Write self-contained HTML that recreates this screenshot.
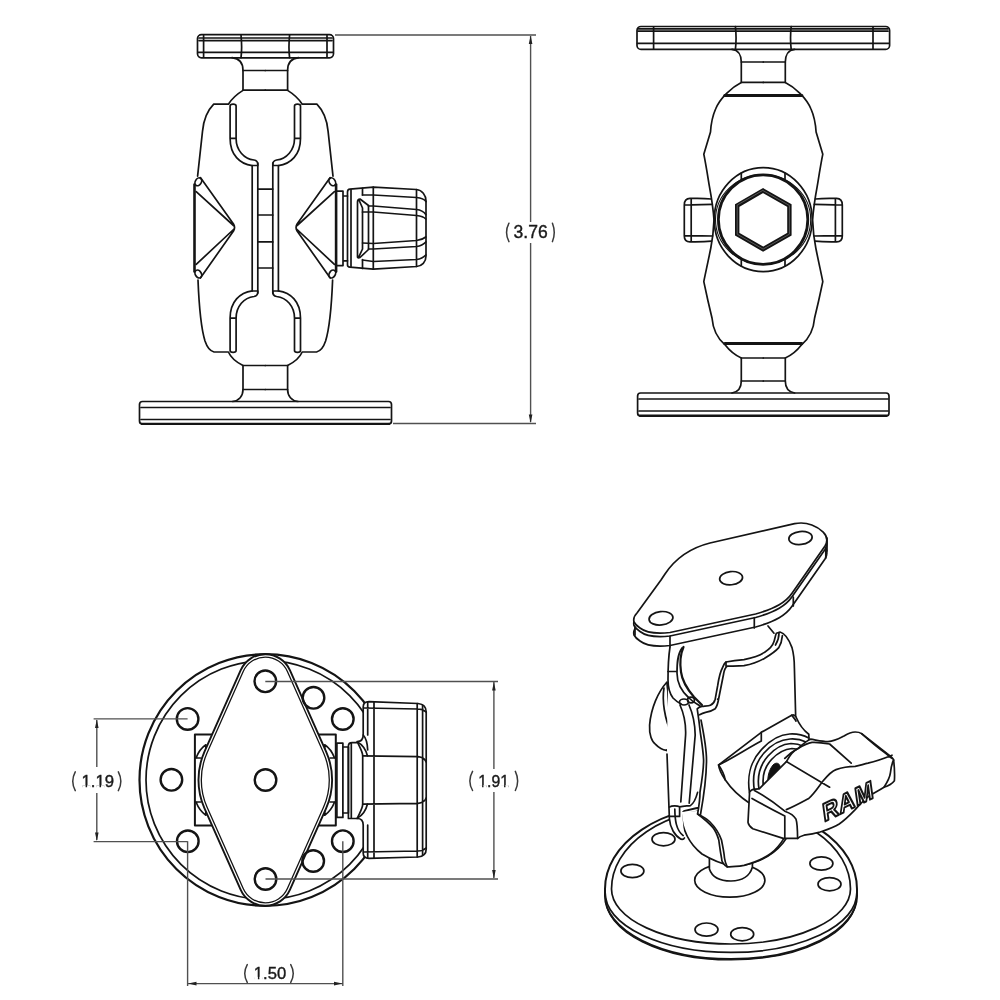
<!DOCTYPE html>
<html><head><meta charset="utf-8">
<style>
html,body{margin:0;padding:0;background:#fff;width:1000px;height:1000px;overflow:hidden}
svg{display:block;will-change:transform}
.d{fill:none;stroke:#141414;stroke-width:1.7;stroke-linecap:round;stroke-linejoin:round}
.dim{fill:none;stroke:#505050;stroke-width:1.4}
.t{font-family:"Liberation Sans",sans-serif;font-size:17px;fill:#1a1a1a;stroke:#1a1a1a;stroke-width:0.4}
.par{fill:none;stroke:#3a3a3a;stroke-width:1.5;stroke-linecap:round}
</style></head><body>
<svg width="1000" height="1000" viewBox="0 0 1000 1000">
<rect width="1000" height="1000" fill="#fff"/>

<!-- ============ TOP LEFT (side view) ============ -->
<g class="d" id="tl">
  <!-- top plate -->
  <rect x="197.5" y="34.6" width="136" height="23.2" rx="4"/>
  <path d="M199,38 H332 M199,40.6 H332 M198,52.3 H333 M203.6,35.5 V57 M327,35.5 V57 M241,35 C242,45 242,50 241,57.7 M289.6,35 C288.6,45 288.6,50 289.6,57.7"/>
  <g id="tlhalf">
    <!-- neck + body outer -->
    <path d="M232,57.7 C239,58.5 243,63 243,70.5 V90.4 C238,93.5 232,98.5 228.4,104.2 H213.7 C208,110 203.5,120 202.5,131.4 L197.6,176.2"/>
    <path d="M198,280 C199,305 201,328 205,341 C207,347 210,351 214,352 H228.4 C231,358 236,362 243,365.5 V389.5 C243,396 239,401 232.5,401.5"/>
    <path d="M243,70.5 H265.3 M243,90.2 H265.3 M243,365.5 H265.3 M243,389.5 H265.3"/>
    <!-- channels -->
    <g id="chan">
      <path d="M230.1,106 C230.1,103.5 236.1,103.5 236.1,106 M230.1,106 V138.4 C230.1,155 240,164 252.2,165.7 M236.1,106 V138.4 C236.1,150 244,159 254,160 C257,160.5 258,162 257.8,165 M230.1,138.4 H236.1 M252.2,165.5 H257.8"/>
    </g>
    <use href="#chan" transform="matrix(1,0,0,-1,0,456.5)"/>
    <path d="M252.2,165.7 V291 M257.8,163 V293"/>
    <!-- pyramid -->
    <path d="M194.5,184.6 V271.6" stroke-width="2.6"/>
    <path d="M200.4,177.6 L233.5,224 C235,226.5 235,228.5 233.5,231 L200.4,278 M196.2,191.6 L233.5,225.5 M196.2,264.4 L233.5,229.5"/>
    <ellipse cx="198.3" cy="181.8" rx="3" ry="4.2" transform="rotate(30 198.3 181.8)"/>
    <ellipse cx="198.3" cy="274" rx="3" ry="4.2" transform="rotate(-30 198.3 274)"/>
  </g>
  <use href="#tlhalf" transform="matrix(-1,0,0,1,530.6,0)"/>
  <path d="M257.8,189.1 H272.8 M257.8,215 H272.8 M257.8,241.9 H272.8 M257.8,268 H272.8"/>
  <!-- knob -->
  <path d="M336,191.2 H343 V265.6 H336 M343,196 H347.5 M343,260.8 H347.5"/>
  <path d="M347.5,192 C347.5,190 348.5,189.3 350,189.2 L373.3,187.2 L416.5,189.5 C422,190 426,195 426,201 V256 C426,262 422,266 416.5,266.5 L373.3,269.2 L350,267.2 C348.5,267 347.5,266.5 347.5,265 Z"/>
  <path d="M351,189.5 V267 M362.5,188.3 V195 M362.5,259.5 V268.5 M373.3,187.2 V269.2 M416.5,189.5 V266.5"/>
  <path d="M362.5,195 L373.3,195 L416.5,197.5 C421,198 424.5,199.5 426,201.5 M368.5,206 L373.3,206 L416.5,209.5 C421,210 424,212 425.8,214.5 M362.5,212 L373.3,212 L416.5,215.5 C421,216 424,217 425.8,219 M362.5,243 L373.3,243.5 L416.5,240.5 C421,240 424,238.5 425.8,237 M368.5,249 L373.3,249 L416.5,246.5 C421,246 424,244 425.8,242 M362.5,260 L373.3,261.5 L416.5,259.5 C421,259 424,257 425.8,255"/>
  <path d="M357.5,257 V202 C357.5,200 358.5,199 360,199 L368.5,205.5 M359,200 L362.5,208 M362.5,208 V243 M368.5,205.5 V249.5 M357.5,257 C358,258 359,258 360,257.5 L368.5,249.5 M359,256.5 L362.5,249 M362.5,243 V249"/>
  <!-- base plate -->
  <rect x="139.5" y="401.5" width="252" height="22.4" rx="3"/>
  <path d="M142,423.9 H389" stroke-width="2.4"/>
  <path d="M141,407.5 H390 M141,419.5 H390"/>
</g>

<!-- ============ TOP RIGHT (front view) ============ -->
<g class="d" id="tr">
  <rect x="637" y="26.5" width="252.6" height="22.9" rx="4"/>
  <path d="M638,28.8 H888 M638,31.2 H888 M637.5,43.4 H889 M653.6,27 V49 M873,27 V49 M735.4,26.5 C736.5,36 736.5,40 735.4,49.4 M791.2,26.5 C790.1,36 790.1,40 791.2,49.4"/>
  <g id="trhalf">
    <path d="M732,49.4 C738,50 741.3,55 741.3,62 V82.4 C732,87 720,98 715.6,109 C712.5,116 711,124 710.5,132 L703.8,154.2 C706,165 708,178 709.4,186.4 C711,195 713,206 714,220 C713.5,232 712,242 710.8,248 C708,262 705.5,273 703.8,281.6 L708,301 L712,318 C713,330 717,338 724.8,344.6 C729,350 734,355 741.3,358 V381 C741.3,388 738,392 732,393"/>
    <path d="M741.3,62 H763.3 M741.3,82.4 H763.3 M741.3,358 H763.3 M741.3,381 H763.3"/>
    <path d="M724.7,95.4 H763.3 M724.8,343.4 H763.3" stroke-width="3"/>
    <path d="M711.2,199 C703,198 697,198.3 690,198.4 C686.5,198.5 684.3,201 684.3,205 V236 C684.3,240 686.5,241.8 690,241.8 C697,241.8 703,242 711.5,241.2 M691.2,199 V241.6 M684.8,205 C695,204.5 703,204.6 712.3,204.3 M684.8,235.6 C695,236 703,235.8 712.6,236"/>
  </g>
  <use href="#trhalf" transform="matrix(-1,0,0,1,1526.6,0)"/>
    <ellipse cx="763.2" cy="219.6" rx="49" ry="52" fill="#fff"/>
  <circle cx="763.1" cy="219.6" r="44.7" stroke-width="2.8"/>
  <ellipse cx="763.1" cy="219.6" rx="47.6" ry="44.9" stroke-width="1.1"/>
  <path d="M741.3,173 V179 M785,173 V179 M741.3,260 V266 M785,260 V266"/>
  <path d="M763.1,190.6 L789.4,205.5 L789.4,234.2 L763.1,249.1 L737.2,234.2 L737.2,205.5 Z" stroke-width="4.4" stroke-linejoin="miter"/>
  <path d="M763.1,190.6 L789.4,205.5 L789.4,234.2 L763.1,249.1 L737.2,234.2 L737.2,205.5 Z" stroke="#777" stroke-width="0.7" stroke-linejoin="miter"/>
  <rect x="637.6" y="393" width="251.4" height="23" rx="3"/>
  <path d="M640,415.8 H886.5" stroke-width="2.4"/>
  <path d="M639,399 H888 M639,411 H888"/>
</g>
<!-- dim 3.76 -->
<g class="dim">
  <path d="M335,35 H536 M393,423.5 H536 M530.6,36 V222 M530.6,243 V422"/>
  <path d="M530.6,35.5 L528.8,44 L532.4,44 Z M530.6,423 L528.8,414.5 L532.4,414.5 Z" fill="#222" stroke="none"/>
</g>

<!-- ============ BOTTOM LEFT (top view) ============ -->
<g class="d" id="bl">
  <circle cx="265.3" cy="780" r="125.8" stroke-width="2.2"/>
  <circle cx="265.3" cy="780" r="119.3"/>
  <!-- blocks behind diamond -->
  <path d="M215,734.6 H194.9 V825.6 H215 M315,734.6 H335.8 V825.6 H315" fill="#fff" stroke-width="2"/>
  <path d="M194.9,758 H200.4 M205.9,744.8 C201,748 198,753 196,758 M205.9,744.8 V752 M194.9,802 H200.4 M205.9,815.2 C201,812 198,807 196,802 M205.9,815.2 V808 M335.7,758 H330.2 M324.7,744.8 C329.6,748 332.6,753 334.6,758 M324.7,744.8 V752 M335.7,802 H330.2 M324.7,815.2 C329.6,812 332.6,807 334.6,802 M324.7,815.2 V808"/>
  <!-- collar strips -->
  <rect x="336.9" y="743.2" width="6" height="74.2" fill="#fff"/>
  <rect x="342.9" y="747" width="5.5" height="66" fill="#fff"/>
  <path d="M348.4,818.5 V746 C348.4,744 349.5,742.6 352,742.6 H357.2 M348.4,818.5 H357.2 M351.3,743 V818"/>
  <!-- knob -->
  <path d="M357.2,741.5 C361,741.5 363.2,739 363.2,735 V707 C363.2,703.5 365.5,701.7 369,701.7 L418,703.5 C423,704 426.2,707 426.2,712 V849 C426.2,854 423,856.5 418,857 L369,858.3 C365.5,858.3 363.2,856.5 363.2,853 V825 C363.2,821 361,818.5 357.2,818.5 C360,812 362.7,808 362.7,804.2 V755.8 C362.7,752 360,748 357.2,741.5 Z" fill="#fff"/>
  <path d="M357.5,742 C363,745 366,750 367.5,756 M357.5,818 C363,815 366,810 367.5,804 M363.2,735 C366,738 367.5,745 367.7,750"/>
  <path d="M367.7,702 V735 M367.7,825 V858 M374,702 V858 M417.2,703.5 V857 M422.6,705 V855 M364,708 L418,709 C421,709 424,710 426,712 M362.7,755.8 L418,756.6 C422,757 425,759 426.2,762 M362.7,804.2 L418,803.4 C422,803 425,801 426.2,798 M364,852 L418,851 C421,851 424,850 426,848"/>
  <!-- diamond plate -->
  <path d="M240.6,670.3 A27,27 0 0 1 290,670.3 L326.1,751.6 A70,70 0 0 1 326.1,808.4 L290,889.7 A27,27 0 0 1 240.6,889.7 L204.5,808.4 A70,70 0 0 1 204.5,751.6 Z" fill="#fff" stroke-width="1.9"/>
  <path d="M243.2,671.5 A24.2,24.2 0 0 1 287.4,671.5 L323.5,752.7 A67.2,67.2 0 0 1 323.5,807.3 L287.4,888.5 A24.2,24.2 0 0 1 243.2,888.5 L207.1,807.3 A67.2,67.2 0 0 1 207.1,752.7 Z" stroke-width="1.3"/>
  <!-- holes -->
  <g stroke-width="2.4">
    <circle cx="187.6" cy="718.9" r="10.8"/><circle cx="171.4" cy="779.8" r="10.8"/><circle cx="187.8" cy="841.3" r="10.8"/>
    <circle cx="313.5" cy="697.8" r="10.8"/><circle cx="342.8" cy="719" r="10.8"/><circle cx="342.8" cy="841.2" r="10.8"/><circle cx="313.2" cy="861" r="10.8"/>
    <circle cx="265.3" cy="681.3" r="10.8"/><circle cx="265.5" cy="780" r="10.8"/><circle cx="265.5" cy="879" r="10.8"/>
  </g>
</g>
<g class="dim">
  <path d="M93.6,718.9 H187.6 M93.6,841.6 H187.6 M96.8,720 V767 M96.8,793 V840"/>
  <path d="M265.3,681.5 H498 M265.5,879 H498 M493.9,682 V769 M493.9,792 V878"/>
  <path d="M187.6,841.3 V986 M342.8,841.2 V986 M188,983.6 H342.5"/>
  <path d="M96.8,719.5 L95,728 L98.6,728 Z M96.8,841 L95,832.5 L98.6,832.5 Z M493.9,682 L492.1,690.5 L495.7,690.5 Z M493.9,878.5 L492.1,870 L495.7,870 Z M188,983.6 L196.5,981.8 L196.5,985.4 Z M342.5,983.6 L334,981.8 L334,985.4 Z" fill="#222" stroke="none"/>
</g>

<!-- ============ BOTTOM RIGHT (isometric) ============ -->
<g class="d" id="br">
  <!-- base -->
  <path d="M605,889 A126,84 0 0 1 857,889 L857,896 A126,63 0 0 1 605,896 Z" fill="#fff" stroke-width="2"/>
  <path d="M605.5,898 A125.5,62 0 0 0 856.5,898" stroke-width="1.2"/>
  <path d="M605.2,893 A125.8,59.5 0 0 0 856.8,893"/>
  <path d="M611.5,889 A119.5,81 0 0 1 850.5,889 A119.5,55 0 0 1 611.5,889 Z"/>
  <g>
    <ellipse cx="663.5" cy="839.2" rx="11.5" ry="6.6"/>
    <ellipse cx="632.4" cy="871" rx="11.5" ry="6.6"/>
    <ellipse cx="821.4" cy="863.5" rx="11.5" ry="6.6"/>
    <ellipse cx="829.5" cy="884.2" rx="11.5" ry="6.6"/>
    <ellipse cx="706.5" cy="929.6" rx="11.5" ry="6.6"/>
    <ellipse cx="742.2" cy="934.2" rx="11.5" ry="6.6"/>
  </g>
  <ellipse cx="729.8" cy="880.3" rx="35.1" ry="16.9"/>
  <path d="M709.4,855 V869 C712,877 720,881 731,881 C742,881 750,876 752.4,867 V855" fill="#fff"/>
  <!-- lower ball -->
  <path d="M681,812 C682,828 688,843 702,854 C712,860 722,864 732,866 C750,866 770,859 783,843 C792,832 795,818 792,805 Z" fill="#fff" stroke="none"/>
  <path d="M681,812 C682,828 688,843 702,854 C712,860 722,864 732,866 C750,866 770,859 783,843 C792,832 795,818 792,805"/>
  <!-- leaf bulge -->
  <path d="M667,682 C658,692 651,708 649.6,725 C649,735 652,742 655.6,744.4 C659,748 663,750 666.4,750.4 C670,749 673,747 673.6,745.6 C674,742 673,738 672.4,736 Z" fill="#fff"/>
  <path d="M664,688 C662,700 664,718 672.4,736 M667.5,685 C668,700 669,718 673,737 M666.4,750.4 L673.6,745.6"/>
  <!-- back arm -->
  <path d="M670,647 C668,660 668,672 668,680 C668,700 667,730 667,754 L669.4,818.8 C670,828 675,836 684.4,838 L682,812 L697.6,792 L702,647 Z" fill="#fff" stroke="none"/>
  <path d="M670,647 C668,660 668,672 668,680 C668,688 670,694 673,698 C676,701 679,703 681,704 M667,754 L669.4,818.8 C670,828 675,836 681,839.2 C682.5,839.5 684,839 684.4,838"/>
  <path d="M683.5,647 C680,655 680,665 681,672 C682,680 688,690 694,697 C697,700 700,703 702,705" stroke-width="2.2"/>
  <path d="M682,648 C677,655 677,665 677,673 C677,682 680,690 689,698 C693,702 697,704 700,706 M668,671.5 H677 M680,705 C684,714 686,725 685.6,735 L680.8,802 M689,705 C693,714 695,725 695.2,735 L689.2,803.2"/>
  <ellipse cx="684" cy="702" rx="4.5" ry="3"/>
  <ellipse cx="691" cy="700" rx="3.5" ry="2.8"/>
  <path d="M669.5,807 C672,805.5 677,805.5 679.6,806.8 V816.4 M670,816.4 H679.6 M674.8,809.2 C675,820 676,830 683.2,835.6 M679.6,806.8 C684,806 688,806 690.4,805.6 C693,804 695,802 697.6,792.4"/>
  <!-- front arm -->
  <path d="M780,632 C784,633 788,637 792,647.6 C794,655 794.4,662 794.4,668 L795.6,714 L795.6,770 L784.6,837.4 C777,850 769,858.4 744,865.4 C737,866.5 731,867 727.2,866.8 C723,864 721.6,860 721.6,858.4 C720,850 719.5,845 718.8,840 C717,834 715,830 713,827.6 C708,822 703,818 697.6,814 C699,806 700,799 700,792 C702,780 703.6,770 703.6,760 C703,748 701,738 700,730 C699,720 698,714 697.2,708.8 C699,707 701,706.5 702,706.4 C706,706 709,706 710.4,705.2 C713,704 714.5,702 715.2,699.2 L717.6,686 C719,677 720,672 722.4,668 C723.5,665 724.5,663 726,662 C733,660.5 738,660 744,659.6 C752,658 759,656 764.4,652.4 C770,649 773,645 774,641.6 C775,638 775.5,635 776.4,633.2 Z" fill="#fff"/>
  <path d="M782.4,635.6 C782,640 781,644 778.8,647.6 C775,652 770,655 764.4,658.4 C758,662 750,664.5 744,665.6 C738,666 732,666 727.2,666.2 C725,668 724,671 723.6,674 L718.8,698 C718,703 716.5,707 715.2,708.8 C712,711 709,712 705.6,712.4 C703,713 701,714 699.6,714.8 M779,633 C779,637 778,641 775.5,645 M726,662 V666.2 M717.6,699.2 H718.6"/>
  <path d="M701,720 C704,735 706.5,750 706.5,760 C706.5,775 704,795 700.5,814.5 M697.6,814 C702,816 707,819 710,822 C716,828 719,833 721.5,840 C723,848 724,852 724.5,858 C725,862 726,864 727.2,866.8"/>
  <path d="M768,626 L774,633.2"/>
  <!-- knob housing -->
  <path d="M718.6,765 L761.3,732.3 L791.7,715.2 C794,714.5 795,715 796,717 C799,724 803,730 808.8,734.2 L810,790 L770,825 L749.6,803.2 C740,797 732,790 725.2,779.8 C722,775 719,770 718.6,765 Z" fill="#fff"/>
  <path d="M718.6,765 C733,758 748,748 761.3,741 M761.3,732.3 V741 M791.7,715.2 C793,717 795,719 796,721 M718.6,765 C722,770 724,773 725.2,779.8"/>
  <!-- rings -->
  <path d="M749.6,793 C747,778 750,762 760.8,750.4 C770,740 780,734.5 789.6,734 C797,733.5 803,735 808.8,738" fill="#fff"/>
  <path d="M754.5,791 C752,777 755,763 764,753 C772,744 781,739.5 790,739 C797,738.5 802,740 806,742 M759,789 C757,777 760,765 768,756 C775,748 783,744 791,743.5 C797,743.5 801,745 804,746.5 M763.5,787 C762,777 764.5,767 771.5,759.5 C778,752.5 785,749 792,748.5 C797,748.5 800,749.5 803,751"/>
  <path d="M768,785 C767,777 769,770 773,765 C776,762 779,763 780,766 C781,770 779,778 776,784" fill="#111" stroke-width="1"/>
  <!-- knob -->
  <path d="M749.6,792 C752,789 754,789 759.2,788.8 L786.4,761.6 C790,755 795,750 797.6,748.8 C802,745 806,741 810.4,739.2 C816,740 822,741.5 828,741.6 C835,741 840,738 844,736 C848,733.5 852,732 855.2,732 C858,732 860,732.5 861.6,733.6 L887.2,753.6 C890,755.5 893,758 893.6,760 C894.5,767 894.8,774 894.4,780.8 C892,784 888,786 884,787.2 C878,791 872,794 868,796.8 C863,801 859,805 855.2,809.6 C850,815 845,820 839.2,824 C833,828 826,830 820,832 C815,833.5 810,834.5 804,835.2 C801,836 799,837 797.6,838.4 L783.2,838.4 L752.8,828.8 C750,827 748.5,825 748,822.4 Z" fill="#fff"/>
  <path d="M754.4,790.4 C765,796 775,803 784.8,811.2 C790,813 794,815.5 796,819.2 C797,822 797.5,830 797.6,838.4 M752,798.4 C762,804 773,810 784.8,816 V838.4"/>
  <path d="M786.4,761.6 L829.6,787.2 M786.4,809.6 C795,806 802,802 808.8,798.4 C815,793 819,786 823.2,780.8 C828,775 832,771 836,769.6 C842,767.5 849,766.5 855.2,766.4 C860,765.5 864,764 868,763.2 C877,761 885,758 892,755.2 M784.8,758.4 C789,754 793,751 797.6,748.8 C803,745.5 808,743 812,742.4 C818,742 824,743 829.6,744 L851.2,763.2 M861.6,733.6 C870,741 878,748 884,752 C888,755 890,757 892,758.4 M884,787.2 C888,781 890,776 890.4,772.8 C891,768 892,763 893.6,760"/>
  <text transform="translate(824,822) rotate(-26) skewX(-18)" style="font-family:'Liberation Sans',sans-serif;font-weight:bold;font-size:24px;fill:#fff;stroke:#141414;stroke-width:2;letter-spacing:0.6px">RAM</text>
  <!-- plate -->
  <path transform="translate(0,13)" d="M634,622 C633,618 634,616 637,613 L661,580 L665,574 C675,559 690,548 710,543 L794.6,523.7 C807.6,521 818,527 823.2,532.1 C827,536 828,541 825,546 L792,593.2 C786,602 776,608 755.6,614 L670,632.5 C655,634 645,632 640,628 C637,626 635,624 634,622 Z" fill="#fff"/>
  <path d="M635,620 V635 M827,538 V551"/>
  <path transform="translate(0,3.5)" d="M634,622 C633,618 634,616 637,613 L661,580 L665,574 C675,559 690,548 710,543 L794.6,523.7 C807.6,521 818,527 823.2,532.1 C827,536 828,541 825,546 L792,593.2 C786,602 776,608 755.6,614 L670,632.5 C655,634 645,632 640,628 C637,626 635,624 634,622 Z" fill="#fff"/>
  <path d="M634,622 C633,618 634,616 637,613 L661,580 L665,574 C675,559 690,548 710,543 L794.6,523.7 C807.6,521 818,527 823.2,532.1 C827,536 828,541 825,546 L792,593.2 C786,602 776,608 755.6,614 L670,632.5 C655,634 645,632 640,628 C637,626 635,624 634,622 Z" fill="#fff"/>
  <path d="M670,636 V646.5 M754.3,617.5 V628 M793.3,597 V606 M825.8,549 V558"/>
  <ellipse cx="800.5" cy="538" rx="11.7" ry="6.5" transform="rotate(-6 800.5 538)"/>
  <ellipse cx="731.1" cy="578.2" rx="11.5" ry="6.6" transform="rotate(-6 731.1 578.2)"/>
  <ellipse cx="661" cy="618.3" rx="12" ry="6.7" transform="rotate(-6 661 618.3)"/>
</g>
<path class="par" d="M508.95,223.20 Q504.15,232.40 508.95,241.60 M552.45,223.20 Q556.05,232.40 552.45,241.60 M75.25,771.80 Q70.25,781.20 75.25,790.60 M118.35,771.80 Q123.35,781.20 118.35,790.60 M472.55,771.40 Q467.15,780.95 472.55,790.50 M515.35,771.40 Q519.95,780.95 515.35,790.50 M247.25,964.60 Q242.25,973.50 247.25,982.40 M290.75,964.60 Q295.75,973.50 290.75,982.40"/>
<text class="t" transform="translate(513.6,238.3) scale(1.03,1.03)">3.76</text>
<text class="t" transform="translate(81.5,787.1) scale(0.985,1)">1.19</text>
<text class="t" transform="translate(478.2,786.9) scale(0.93,1)">1.91</text>
<text class="t" transform="translate(253.8,979.4) scale(0.98,1.02)">1.50</text>
<rect x="82.34" y="785.30" width="3.27" height="2.9" fill="#fff"/>
<rect x="87.11" y="785.30" width="3.27" height="2.9" fill="#fff"/>
<rect x="96.28" y="785.30" width="3.27" height="2.9" fill="#fff"/>
<rect x="101.05" y="785.30" width="3.27" height="2.9" fill="#fff"/>
<rect x="478.99" y="785.10" width="3.08" height="2.9" fill="#fff"/>
<rect x="483.50" y="785.10" width="3.08" height="2.9" fill="#fff"/>
<rect x="500.95" y="785.10" width="3.08" height="2.9" fill="#fff"/>
<rect x="505.46" y="785.10" width="3.08" height="2.9" fill="#fff"/>
<rect x="254.4" y="976.9" width="3.5" height="3.6" fill="#fff"/>
<rect x="259.38" y="976.9" width="3.4" height="3.6" fill="#fff"/>
</svg>
</body></html>
